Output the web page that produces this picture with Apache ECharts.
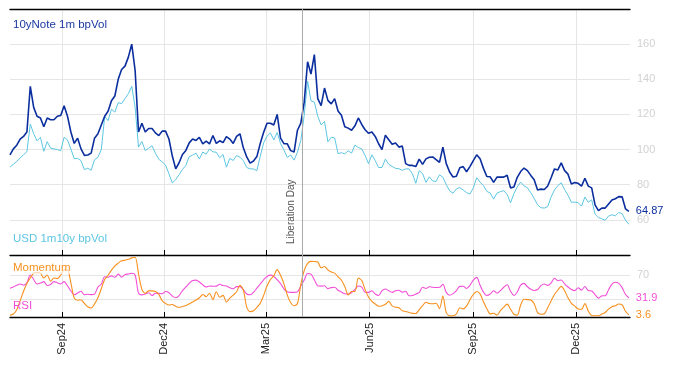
<!DOCTYPE html>
<html><head><meta charset="utf-8">
<script src="https://cdn.jsdelivr.net/npm/echarts@6/dist/echarts.min.js"></script>
<style>html,body{margin:0;padding:0;background:#fff}#c{width:674px;height:366px}</style>
</head><body><div id="c"></div>
<script>
// ---- data (one point every 3 calendar days from 2024-07-17) ----
const startDate = '2024-07-17';
const stepDays = 3;
const axisEndDate = '2026-01-18';

const noteVol = [
97,100.4,102.5,106,107.5,110,136,124,119,118,
113,118,117,117,119,119.4,125,119,110,103.5,
106.5,100.4,96.7,96.9,98,106.5,109,114,119,121.8,
127.8,130.5,140,145.6,147.5,152.6,160,145,110,115,
110,112,112,109.5,108,110.5,110.5,106,96.3,89,
92.5,97.2,99.5,103.8,106,105.2,107,103.3,104.8,103.2,
108,103.5,105,104,107.4,106,103.5,107.5,109,101,
95.8,92.3,93.5,96,103.5,109.8,115,115,114,120,
106.5,103.4,103.3,99.4,98.6,111,115,127,150,143,
154,129,125,135,128,126,129,122,119.5,113,
112.2,111,113.5,118,114.3,111.3,109.3,110,107.5,103.3,
100,108.2,105.6,103,103.8,101.4,102,92,91,91,
90.3,94.6,91.6,94.7,95.6,95.8,94.3,92.7,101.4,92,
87.2,84.4,84.8,89.7,90.3,87.4,90.3,93.7,97,94.8,
89.3,84.7,84.5,81.3,84.3,84.3,84.3,85.4,78.2,78.7,
84.2,87.5,89.5,88,85.3,82.8,77,77.5,77.3,79.3,
84,89,88.4,92.4,88,86,80.4,81.2,80.8,79.2,
83.7,79.2,78.2,68.5,65.3,66.7,66.7,69,71.3,72,
73.2,73.1,66.3,64.87];

const usdVol = [
90,91.6,93.3,95.2,97,98.8,114.5,109,105,107,
99,104.5,100.8,100.4,100,99.4,107,105.5,100.3,94.8,
95,93.7,88.6,89.4,88.2,94.2,95.6,100,118.8,116.5,
123,121.3,126.7,126.1,129,131.8,136,124,101.4,104.6,
99.4,100.8,102.2,97.9,94.5,93,91.2,86.2,81,82.9,
85.7,88.7,91,96,96.8,98,94.7,98.6,97.4,100.3,
98.7,98.5,95.4,97.2,90,95,93.8,96.6,95.7,93.7,
89.8,89,89,88,96.2,103.8,107.6,109.5,105.5,109.7,
103.5,99.8,95.5,96.9,94,98.5,105.3,119.5,139,127.7,
127,119,114,116,104.4,107,106.6,97.7,98.2,97.6,
99.3,98,102.5,101.2,100.4,96.7,92,97,93.7,89.8,
89.8,94.6,91.6,90.4,89.3,89.1,88.2,89,89,86.2,
80.8,88,86.3,81.3,84.5,82.1,81.9,85.6,84.3,80,
76.5,75.2,77.6,78.4,77,75.5,74.7,78.2,84,81.5,
79.5,76.2,75.3,71.8,75.2,76.1,76.6,74.5,69.7,74.9,
78.8,81.5,79.3,78.3,75.4,72.2,68.5,66.9,66.7,67.5,
73,77,79.5,81.1,77.2,74,70,70.1,69.8,67.8,
73,70,71.4,63.2,61.3,60.6,59.8,62.2,62.9,62.3,
64.2,63.6,59.8,57.5];

const momentum = [
3,5,12,27,43,56,65,73,74,73,
65,70,59.5,65,64,70,78.8,78.4,57,31.5,
28,28.4,22.8,17,15,21.8,32,47,62.5,69.5,
78,85.2,89.8,93.7,94.6,96.2,98.5,99.5,72,46,
39.6,43.5,43.5,42.6,37.8,27,22.7,20,20.8,17.9,
16.2,17.4,19.3,22,25,28.2,32,37.6,34,39.5,
29,42,33,36,25,31.5,36.5,42,53,45,
16.4,9,10.5,16.2,23,36,51.5,62.3,68.5,79,
69.5,55.3,36.5,23.7,18.8,22.5,54.5,77.5,89.3,92.7,
92.5,91.7,82,84.2,78.5,75,73.1,67,61.3,50.8,
36.7,42.5,42.5,64.8,61,45.8,33.2,26,21.7,18,
18.9,21.1,26,18.6,16.2,15.5,10.4,9.3,7.6,6,
5.8,12.2,18.8,24.5,22.5,22,23,14,35,7.2,
2.2,2.2,5,15.5,13.6,18,28.6,37.5,42.4,38.6,
25.3,13.9,5.2,6.2,3.3,10.5,16.3,21.5,12.8,4.6,
3,20,29.5,29,28.2,22.2,7.3,4.7,5.4,15.5,
26.8,37.5,45,51,43.8,32,22.8,18,13.5,12.8,
22.3,9.8,2.6,2.2,2.2,4.8,7.6,13.2,17.1,18.8,
21.7,20,9.6,3.6];

const rsi = [
47.8,50,53,55,53,57,70,62.5,55,56.5,
59,52.5,54.2,59,57,55,59,52,43.3,37,
40,43,37,37.8,37.2,38,50,54.5,67,66.3,
68.5,66.2,71.4,66.3,70.4,71.7,72.8,70,40,36.8,
38.4,40.5,35.7,39.5,39.3,38.8,42.5,40.3,35,32,
35.5,44,50,56,60.7,61.5,58.3,53.5,50,51.7,
51.2,51.5,54.5,52.4,51.8,48.7,47,50.6,50.6,45.5,
38.3,37,41,48,55,62,67.6,69.8,67.5,62.3,
55.5,47,42,41,41,42,51.5,61.5,72.5,71.5,
62,52,51.5,52,47.2,49,49.5,44.5,41.5,38.6,
38.3,40.7,46.2,51.7,49.7,41.3,41,43.7,38.3,35.7,
43.8,46.6,43.7,41,43.9,44.5,41.2,42.8,35.5,35.9,
38.3,41,49.5,47.5,50.5,49.5,49.2,49.5,54.5,41,
36.3,39,44,51,51.3,47.6,52.8,61.5,66,52.8,
41.5,35.8,38.2,43.8,39.5,43.8,49.6,53.7,43,36,
41.7,53,56,50.4,46.3,44.2,45.7,52.3,55,52.7,
56.8,64.5,60.5,61.7,55,50,46,44,48.7,44.7,
50.8,44,43.3,37.4,31.5,35.2,35.4,45.5,54.8,57.8,
56,49,37.5,31.9];

const tickDates = ['2024-09-01','2024-12-01','2025-03-01','2025-06-01','2025-09-01','2025-12-01'];
const tickLabels = ['Sep24','Dec24','Mar25','Jun25','Sep25','Dec25'];
const eventDate = '2025-04-02';
const eventLabel = 'Liberation Day';
const volTicks = [40,60,80,100,120,140,160,180];
const oscGrid = [30,70];
const oscLabels = [70];
const names = {note:'10yNote 1m bpVol', usd:'USD 1m10y bpVol', mom:'Momentum', rsi:'RSI'};

// ---- build: x is measured in days since startDate ----
const DAY = 86400000;
const t0 = new Date(startDate).getTime();
const dayOf = d => Math.round((new Date(d).getTime() - t0) / DAY);
const days = noteVol.map((_, i) => i * stepDays);
const pair = arr => arr.map((v, i) => [days[i], v]);
const xMin = 0, xMax = dayOf(axisEndDate);
const tickVals = tickDates.map(dayOf);
const labelOf = v => { const k = tickVals.indexOf(Math.round(v)); return k >= 0 ? tickLabels[k] : ''; };
const evt = dayOf(eventDate);

const C = {note:'#0b2e9e', usd:'#5cc6e2', mom:'#f7901e', rsi:'#f24fd8', grid:'#e6e6e6', ylab:'#d2d2d2'};
const FONT = 'Liberation Sans';

const chart = echarts.init(document.getElementById('c'), null, {renderer:'canvas'});
chart.setOption({
  animation:false,
  textStyle:{fontFamily:FONT},
  grid:[
    {left:10, right:44, top:9, height:246},
    {left:10, right:44, top:255, height:62}
  ],
  xAxis:[
    {type:'value', gridIndex:0, min:xMin, max:xMax, position:'bottom',
     axisLine:{show:true, onZero:false, lineStyle:{color:'#000', width:1.3}},
     axisTick:{show:true, inside:true, length:5, customValues:tickVals, lineStyle:{color:'#000'}},
     axisLabel:{show:false, customValues:tickVals},
     splitLine:{show:true, lineStyle:{color:C.grid}}},
    {type:'value', gridIndex:1, min:xMin, max:xMax, position:'bottom',
     axisLine:{show:true, onZero:false, lineStyle:{color:'#000', width:1.3}},
     axisTick:{show:true, inside:true, length:5, customValues:tickVals, lineStyle:{color:'#000'}},
     axisLabel:{show:true, customValues:tickVals, rotate:90, fontSize:11, color:'#222', margin:6,
       fontFamily:FONT, formatter:v => labelOf(v)},
     splitLine:{show:true, lineStyle:{color:C.grid}}},
    {type:'value', gridIndex:0, min:xMin, max:xMax, position:'top',
     axisLine:{show:true, onZero:false, lineStyle:{color:'#000', width:1.3}},
     axisTick:{show:false}, axisLabel:{show:false}, splitLine:{show:false}}
  ],
  yAxis:[
    {type:'value', gridIndex:0, position:'right', min:volTicks[0], max:volTicks[volTicks.length-1], interval:20,
     axisLine:{show:false}, axisTick:{show:false},
     axisLabel:{color:C.ylab, fontSize:11, margin:7, showMinLabel:false, showMaxLabel:false, fontFamily:FONT},
     splitLine:{show:true, lineStyle:{color:C.grid}}},
    {type:'value', gridIndex:1, position:'right', min:0, max:103.3,
     axisLine:{show:false}, axisTick:{show:false, customValues:oscGrid},
     axisLabel:{color:C.ylab, fontSize:11, margin:7, customValues:oscLabels, fontFamily:FONT},
     splitLine:{show:true, lineStyle:{color:C.grid}}}
  ],
  graphic:[
    {type:'text', left:13, top:19, z:100, style:{text:names.note, fill:'#1a3a9e', font:'11.5px "'+FONT+'"'}},
    {type:'text', left:13, top:233, z:100, style:{text:names.usd, fill:C.usd, font:'11.5px "'+FONT+'"'}},
    {type:'text', left:13, top:262, z:100, style:{text:names.mom, fill:C.mom, font:'11.5px "'+FONT+'"', backgroundColor:'rgba(255,255,255,0.65)'}},
    {type:'text', left:13, top:300, z:100, style:{text:names.rsi, fill:C.rsi, font:'11.5px "'+FONT+'"'}}
  ],
  series:[
    {type:'line', name:names.usd, xAxisIndex:0, yAxisIndex:0, data:pair(usdVol), showSymbol:false,
     lineStyle:{color:C.usd, width:1}, itemStyle:{color:C.usd}, z:2},
    {type:'line', name:names.note, xAxisIndex:0, yAxisIndex:0, data:pair(noteVol), showSymbol:false,
     lineStyle:{color:C.note, width:1.6}, itemStyle:{color:C.note}, z:3,
     endLabel:{show:true, formatter:p => String(p.value[1]), color:C.note, fontSize:11, distance:7, fontFamily:FONT},
     markLine:{silent:true, symbol:['none','none'], animation:false,
       lineStyle:{color:'#ababab', width:1, type:'solid'},
       label:{show:true, formatter:eventLabel, position:'insideStartTop', fontSize:10, color:'#555', distance:[11, 6], fontFamily:FONT},
       data:[{xAxis:evt}]}},
    {type:'line', name:names.rsi, xAxisIndex:1, yAxisIndex:1, data:pair(rsi), showSymbol:false, smooth:0.3,
     lineStyle:{color:C.rsi, width:1.1}, itemStyle:{color:C.rsi}, z:2,
     endLabel:{show:true, formatter:p => String(p.value[1]), color:C.rsi, fontSize:11, distance:7, fontFamily:FONT},
     markLine:{silent:true, symbol:['none','none'], animation:false,
       lineStyle:{color:'#ababab', width:1, type:'solid'}, label:{show:false}, data:[{xAxis:evt}]}},
    {type:'line', name:names.mom, xAxisIndex:1, yAxisIndex:1, data:pair(momentum), showSymbol:false, smooth:0.3,
     lineStyle:{color:C.mom, width:1.1}, itemStyle:{color:C.mom}, z:2,
     endLabel:{show:true, formatter:p => String(p.value[1]), color:C.mom, fontSize:11, distance:7, fontFamily:FONT}}
  ]
});
</script></body></html>
